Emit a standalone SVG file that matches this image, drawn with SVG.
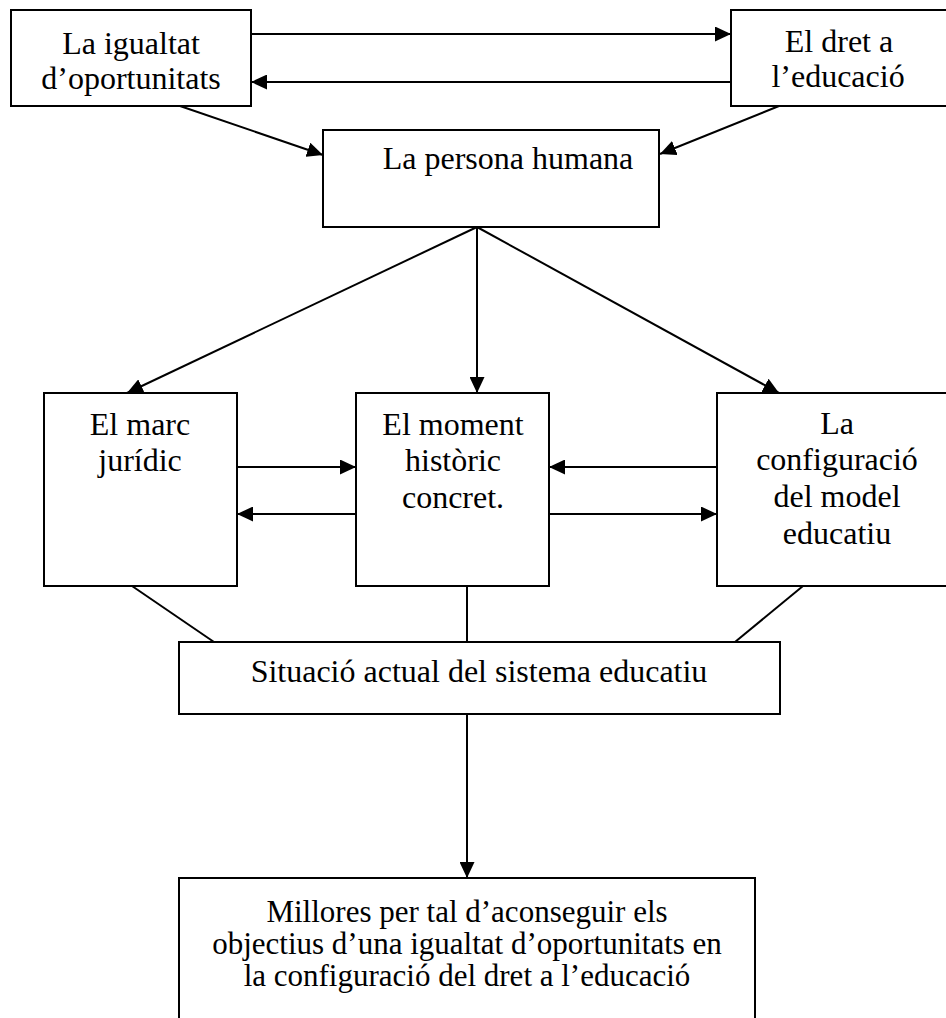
<svg xmlns="http://www.w3.org/2000/svg" width="946" height="1018" viewBox="0 0 946 1018">
<style>
.box{fill:#fff;stroke:#000;stroke-width:2}
.t{font-family:'Liberation Serif','Times New Roman',serif;font-size:32px;fill:#000;text-anchor:middle}
.s{font-size:31px}
.c line{stroke:#000;stroke-width:2}
.a{marker-end:url(#ah)}
</style>
<defs>
<marker id="ah" markerUnits="userSpaceOnUse" markerWidth="16" markerHeight="15" refX="16" refY="7.5" orient="auto">
<path d="M0,0 L16,7.5 L0,15 z" fill="#000"/>
</marker>
</defs>
<rect width="946" height="1018" fill="#fff"/>
<g class="c">
<line class="a" x1="251" y1="34" x2="731" y2="34"/>
<line class="a" x1="731" y1="82" x2="251" y2="82"/>
<line class="a" x1="180" y1="106" x2="323" y2="155"/>
<line class="a" x1="779" y1="106" x2="660" y2="154"/>
<line class="a" x1="477" y1="227" x2="127" y2="393"/>
<line class="a" x1="477" y1="227" x2="477" y2="393"/>
<line class="a" x1="477" y1="227" x2="779" y2="393"/>
<line class="a" x1="237" y1="467" x2="356" y2="467"/>
<line class="a" x1="356" y1="514" x2="237" y2="514"/>
<line class="a" x1="717" y1="467" x2="549" y2="467"/>
<line class="a" x1="549" y1="514" x2="717" y2="514"/>
<line x1="132" y1="586" x2="214" y2="642"/>
<line x1="467" y1="586" x2="467" y2="642"/>
<line x1="803" y1="586" x2="735" y2="642"/>
<line class="a" x1="467" y1="714" x2="467" y2="878"/>
</g>
<g id="igualtat">
<rect class="box" x="11" y="10" width="240" height="96"/>
<text class="t" x="131" y="54">La igualtat</text>
<text class="t" x="131" y="89">d’oportunitats</text>
</g>
<g id="dret">
<rect class="box" x="731" y="10" width="230" height="96"/>
<text class="t" x="839" y="52">El dret a</text>
<text class="t" x="838" y="87">l’educació</text>
</g>
<g id="persona">
<rect class="box" x="323" y="130" width="336" height="97"/>
<text class="t" x="508" y="169">La persona humana</text>
</g>
<g id="marc">
<rect class="box" x="44" y="393" width="193" height="193"/>
<text class="t" x="140" y="435">El marc</text>
<text class="t" x="140" y="471">jurídic</text>
</g>
<g id="moment">
<rect class="box" x="356" y="393" width="193" height="193"/>
<text class="t" x="453" y="435">El moment</text>
<text class="t" x="453" y="471">històric</text>
<text class="t" x="453" y="508">concret.</text>
</g>
<g id="config">
<rect class="box" x="717" y="393" width="240" height="193"/>
<text class="t" x="837" y="434">La</text>
<text class="t" x="837" y="470">configuració</text>
<text class="t" x="837" y="507">del model</text>
<text class="t" x="837" y="544">educatiu</text>
</g>
<g id="situacio">
<rect class="box" x="179" y="642" width="601" height="72"/>
<text class="t" x="479" y="682">Situació actual del sistema educatiu</text>
</g>
<g id="millores">
<rect class="box" x="179" y="878" width="576" height="150"/>
<text class="t s" x="467" y="922">Millores per tal d’aconseguir els</text>
<text class="t s" x="467" y="954">objectius d’una igualtat d’oportunitats en</text>
<text class="t s" x="467" y="986">la configuració del dret a l’educació</text>
</g>
</svg>
